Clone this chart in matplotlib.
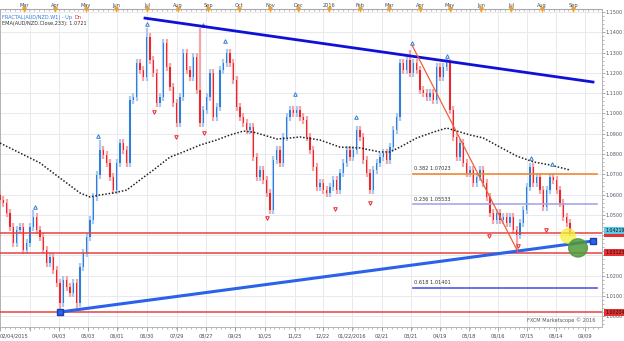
import numpy as np
import matplotlib.pyplot as plt
from matplotlib.patches import Ellipse, Rectangle
import matplotlib.transforms as mtransforms

# ---- data (AUD/NZD daily, Feb 2015 - Sep 2016) ----
first_open = 1.0600
closes = [
    1.0573, 1.0558, 1.0509, 1.0440, 1.0361, 1.0425, 1.0440, 1.0327, 1.0361, 1.0440,
    1.0489, 1.0425, 1.0391, 1.0327, 1.0263, 1.0292, 1.0228, 1.0164, 1.0065, 1.0179,
    1.0144, 1.0115, 1.0164, 1.0065, 1.0243, 1.0312, 1.0391, 1.0475, 1.0588, 1.0696,
    1.0820, 1.0795, 1.0756, 1.0687, 1.0622, 1.0756, 1.0854, 1.0820, 1.0756, 1.1066,
    1.1081, 1.1249, 1.1214, 1.1180, 1.1377, 1.1263, 1.1199,
    1.1051, 1.1081, 1.1347, 1.1229, 1.1130, 1.1051, 1.0953, 1.1081, 1.1298, 1.1214,
    1.1180, 1.1278, 1.1115, 1.0953, 1.1017, 1.1081, 1.1199, 1.0982, 1.1032, 1.1214,
    1.1249, 1.1298, 1.1249, 1.1165, 1.1032, 1.0982, 1.0953, 1.0918, 1.0933, 1.0785,
    1.0687, 1.0721, 1.0672, 1.0608, 1.0524, 1.0770, 1.0820, 1.0756, 1.0884, 1.0982,
    1.1017, 1.1002, 1.1017, 1.0982,
    1.0968, 1.0884, 1.0820, 1.0736, 1.0637, 1.0657, 1.0622, 1.0608, 1.0637, 1.0672,
    1.0622, 1.0706, 1.0756, 1.0820, 1.0785, 1.0820, 1.0918, 1.0884, 1.0770, 1.0706,
    1.0622, 1.0721, 1.0756, 1.0785, 1.0805, 1.0770, 1.0834, 1.0918, 1.0982, 1.1249,
    1.1214, 1.1263, 1.1199, 1.1249, 1.1214, 1.1115, 1.1101, 1.1081, 1.1101, 1.1066,
    1.1229, 1.1180, 1.1229, 1.1249, 1.1017,
    1.0884, 1.0785, 1.0854, 1.0756, 1.0706, 1.0721, 1.0657, 1.0687, 1.0721, 1.0657,
    1.0588, 1.0509, 1.0475, 1.0509, 1.0475, 1.0489, 1.0460, 1.0489, 1.0425, 1.0401,
    1.0460, 1.0524, 1.0637, 1.0736, 1.0657, 1.0687, 1.0622, 1.0539, 1.0622, 1.0687,
    1.0672, 1.0622, 1.0558, 1.0489, 1.0460, 1.0415,
]
# extreme highs / lows that stick out of the normal wicks
high_spikes = {44: 1.1420, 60: 1.1420, 123: 1.1313, 10: 1.0524, 30: 1.0869}
low_spikes = {18: 1.0021, 155: 1.0327, 81: 1.0504, 23: 1.0040}

ema_idx = [0, 6, 12, 16, 20, 24, 27, 30, 34, 38, 42, 46, 51, 55, 60, 65, 69, 73, 76,
           79, 83, 87, 90, 96, 102, 108, 114, 117, 120, 125, 130, 134, 141, 145, 150,
           155, 160, 165, 171]
ema_val = [1.0854, 1.0805, 1.0756, 1.0706, 1.0657, 1.0608, 1.0588, 1.0598, 1.0608,
           1.0622, 1.0672, 1.0721, 1.0785, 1.0810, 1.0844, 1.0869, 1.0894, 1.0913,
           1.0908, 1.0894, 1.0874, 1.0879, 1.0884, 1.0869, 1.0834, 1.0830, 1.0810,
           1.0810, 1.0834, 1.0879, 1.0908, 1.0928, 1.0894, 1.0879, 1.0834, 1.0790,
           1.0761, 1.0746, 1.0721]

frac_up_idx = [10.5, 29.4, 44.1, 60.9, 67.5, 88.5, 106.8, 123.6, 134.1, 159.3, 165.6]
frac_up_val = [1.0539, 1.0889, 1.1441, 1.1436, 1.1357, 1.1096, 1.0982, 1.1347, 1.1283, 1.0780, 1.0751]
frac_dn_idx = [46.2, 52.8, 61.2, 80.1, 100.5, 111.0, 146.7, 155.4, 163.8]
frac_dn_val = [1.1007, 1.0884, 1.0903, 1.0484, 1.0529, 1.0558, 1.0396, 1.0346, 1.0425]

# trend lines (start idx, start price, end idx, end price)
upper_trend = (43.5, 1.1470, 177.9, 1.1155)
lower_trend = (18.0, 1.0021, 177.9, 1.0371)
fall_line = (123.6, 1.1337, 155.4, 1.0317)

fib_labels = ['0.382 1.07023', '0.236 1.05533', '0.618 1.01401']
fib_levels = [1.07023, 1.05533, 1.01401]
red_levels = [1.0412, 1.03123, 1.00204]
last_price = 1.04219

date_pos = [0, 9, 17.6, 26.4, 35.2, 44.1, 53.1, 61.8, 70.5, 79.5, 88.5, 96.9, 105.6,
            114.6, 123.3, 132.0, 140.7, 149.4, 158.1, 166.8, 175.5]
date_labels = ['02/04/2015', '', '04/03', '05/03', '06/01', '06/30', '07/29', '08/27',
               '09/25', '10/25', '11/23', '12/22', '01/22/2016', '02/21', '03/21',
               '04/19', '05/18', '06/16', '07/15', '08/14', '09/09']
month_pos = [7.2, 16.5, 25.8, 34.8, 44.1, 53.4, 62.4, 71.7, 81.0, 89.4, 98.7, 108.0,
             116.7, 126.0, 135.0, 144.3, 153.3, 162.6, 171.9]
month_labels = ['Mar', 'Apr', 'May', 'Jun', 'Jul', 'Aug', 'Sep', 'Oct', 'Nov', 'Dec',
                '2016', 'Feb', 'Mar', 'Apr', 'May', 'Jun', 'Jul', 'Aug', 'Sep']

# ---- figure ----
fig = plt.figure(figsize=(6.24, 3.41), dpi=100)
ax = fig.add_axes([0, 14 / 341, 602 / 624, 318 / 341])
ax.set_xlim(0, 180.6)
ax.set_ylim(0.9947, 1.1515)

for y in np.arange(1.00, 1.151, 0.01):
    ax.axhline(y, color='#e8e8ef', lw=0.7, zorder=0)
for x in date_pos:
    ax.axvline(x, color='#e8e8ef', lw=0.7, zorder=0)

# candles
opens = [first_open] + closes[:-1]
wick = 0.0018
for i, (o, c) in enumerate(zip(opens, closes)):
    up = c >= o
    hi = high_spikes.get(i, max(o, c) + wick)
    lo = low_spikes.get(i, min(o, c) - wick)
    ax.vlines(i, lo, hi, color='#a9c9ef' if up else '#f4a5a8', lw=1.6, zorder=2)
    ax.bar(i, max(abs(c - o), 0.0006), bottom=min(o, c), width=0.45,
           color='#2f7fd8' if up else '#e8262b', zorder=3, linewidth=0)

ax.plot(ema_idx, ema_val, color='#222222', lw=1.1, ls=(0, (1, 1.2)), zorder=4)

ax.plot(frac_up_idx, frac_up_val, ls='none', marker='^', ms=2.6, mfc='white',
        mec='#2f7fd8', mew=0.7, zorder=5)
ax.plot(frac_dn_idx, frac_dn_val, ls='none', marker='v', ms=2.6, mfc='white',
        mec='#e8262b', mew=0.7, zorder=5)

# horizontal levels
for lv in red_levels:
    ax.axhline(lv, color='#e84040', lw=1.1, zorder=3)
fib_colors = ['#f08a30', '#a7a7e6', '#4a5ae8']
for lab, lv, col in zip(fib_labels, fib_levels, fib_colors):
    ax.plot([123.9, 179.1], [lv, lv], color=col, lw=1.2, zorder=3)
    ax.text(124.2, lv + 0.0012, lab, fontsize=3.6, color='#333333', va='bottom', zorder=6)

# trend lines
ax.plot(upper_trend[0::2], upper_trend[1::2], color='#1010d8', lw=2, zorder=6)
ax.plot(lower_trend[0::2], lower_trend[1::2], color='#2a62e8', lw=2.2, zorder=6,
        marker='s', ms=4.5, mfc='#2a62e8', mec='#1a3fb0')
ax.plot(fall_line[0::2], fall_line[1::2], color='#f0603a', lw=0.9, zorder=6)

ax.add_patch(Ellipse((170.4, 1.0396), 4.3, 0.0071, color='#f5f03a', alpha=0.75, zorder=7))
ax.add_patch(Ellipse((173.4, 1.0337), 5.6, 0.0090, color='#4f9a3a', alpha=0.85, zorder=7))

# right price axis
yt = np.arange(1.00, 1.151, 0.01)
ax.yaxis.tick_right()
ax.set_yticks(yt)
ax.set_yticklabels(['' if abs(v - 1.03) < 1e-6 or abs(v - 1.04) < 1e-6 else '%.4f' % v
                    for v in yt])
ax.set_yticks(np.arange(0.996, 1.151, 0.002), minor=True)
ax.tick_params(axis='y', which='major', labelsize=3.5, labelcolor='#556',
               length=2, width=0.5, color='#888', pad=0.8)
ax.tick_params(axis='y', which='minor', length=1.2, width=0.4, color='#888')

ytr = ax.get_yaxis_transform()
# red level marker partly hidden behind the last-price box
ax.add_patch(Rectangle((1.003, red_levels[0] - 0.0022), 0.034, 0.0034, transform=ytr,
                       fc='#e83030', ec='none', clip_on=False, zorder=9))
boxes = [(last_price, '%.5f' % last_price, '#5bc8ec'),
         (red_levels[1], '%.5f' % red_levels[1], '#e83030'),
         (red_levels[2], '%.5f' % red_levels[2], '#e83030')]
for lv, lab, col in boxes:
    ax.text(1.005, lv, lab, transform=ytr, fontsize=3.4,
            va='center', ha='left', color='#111111', zorder=10, clip_on=False,
            bbox=dict(boxstyle='square,pad=0.2', fc=col, ec='none'))

# bottom date axis
ax.set_xticks(date_pos)
ax.set_xticklabels(date_labels)
ax.set_xticks(np.arange(0, 180.6, 1.47), minor=True)
ax.tick_params(axis='x', which='major', labelsize=3.6, labelcolor='#445',
               length=3, width=0.5, color='#888', pad=1.5)
ax.tick_params(axis='x', which='minor', length=1.5, width=0.4, color='#888')
for t in ax.get_xticklabels()[:1]:
    t.set_ha('left')

# top month axis
top = ax.secondary_xaxis('top')
top.set_xticks(month_pos)
top.set_xticklabels(month_labels)
top.set_xticks(np.arange(0, 180.6, 1.47), minor=True)
top.tick_params(axis='x', which='major', labelsize=3.6, labelcolor='#445',
                length=2, width=0.5, color='#f0a020', pad=1, direction='in')
top.tick_params(axis='x', which='minor', length=1.5, width=0.4, color='#888', direction='in')
ax.plot(month_pos, [1.0] * len(month_pos),
        transform=mtransforms.blended_transform_factory(ax.transData, ax.transAxes),
        ls='none', marker='v', ms=2.5, color='#f0a020', clip_on=False, zorder=10)

for s in ax.spines.values():
    s.set_color('#aaaaaa')
    s.set_linewidth(0.6)
top.spines['top'].set_color('#aaaaaa')

ax.text(0.004, 0.982, 'FRACTAL(AUD/NZD.W1) - Up', transform=ax.transAxes, fontsize=3.6,
        color='#2f7fd8', va='top')
ax.text(0.124, 0.982, 'Dn', transform=ax.transAxes, fontsize=3.6, color='#e8262b', va='top')
ax.text(0.004, 0.962, 'EMA(AUD/NZD.Close,233): 1.0721', transform=ax.transAxes,
        fontsize=3.6, color='#333333', va='top')
ax.text(0.99, 0.012, 'FXCM Marketscope \u00a9 2016', transform=ax.transAxes, fontsize=3.6,
        color='#555555', ha='right', va='bottom')

fig.savefig('out.png', dpi=100)
